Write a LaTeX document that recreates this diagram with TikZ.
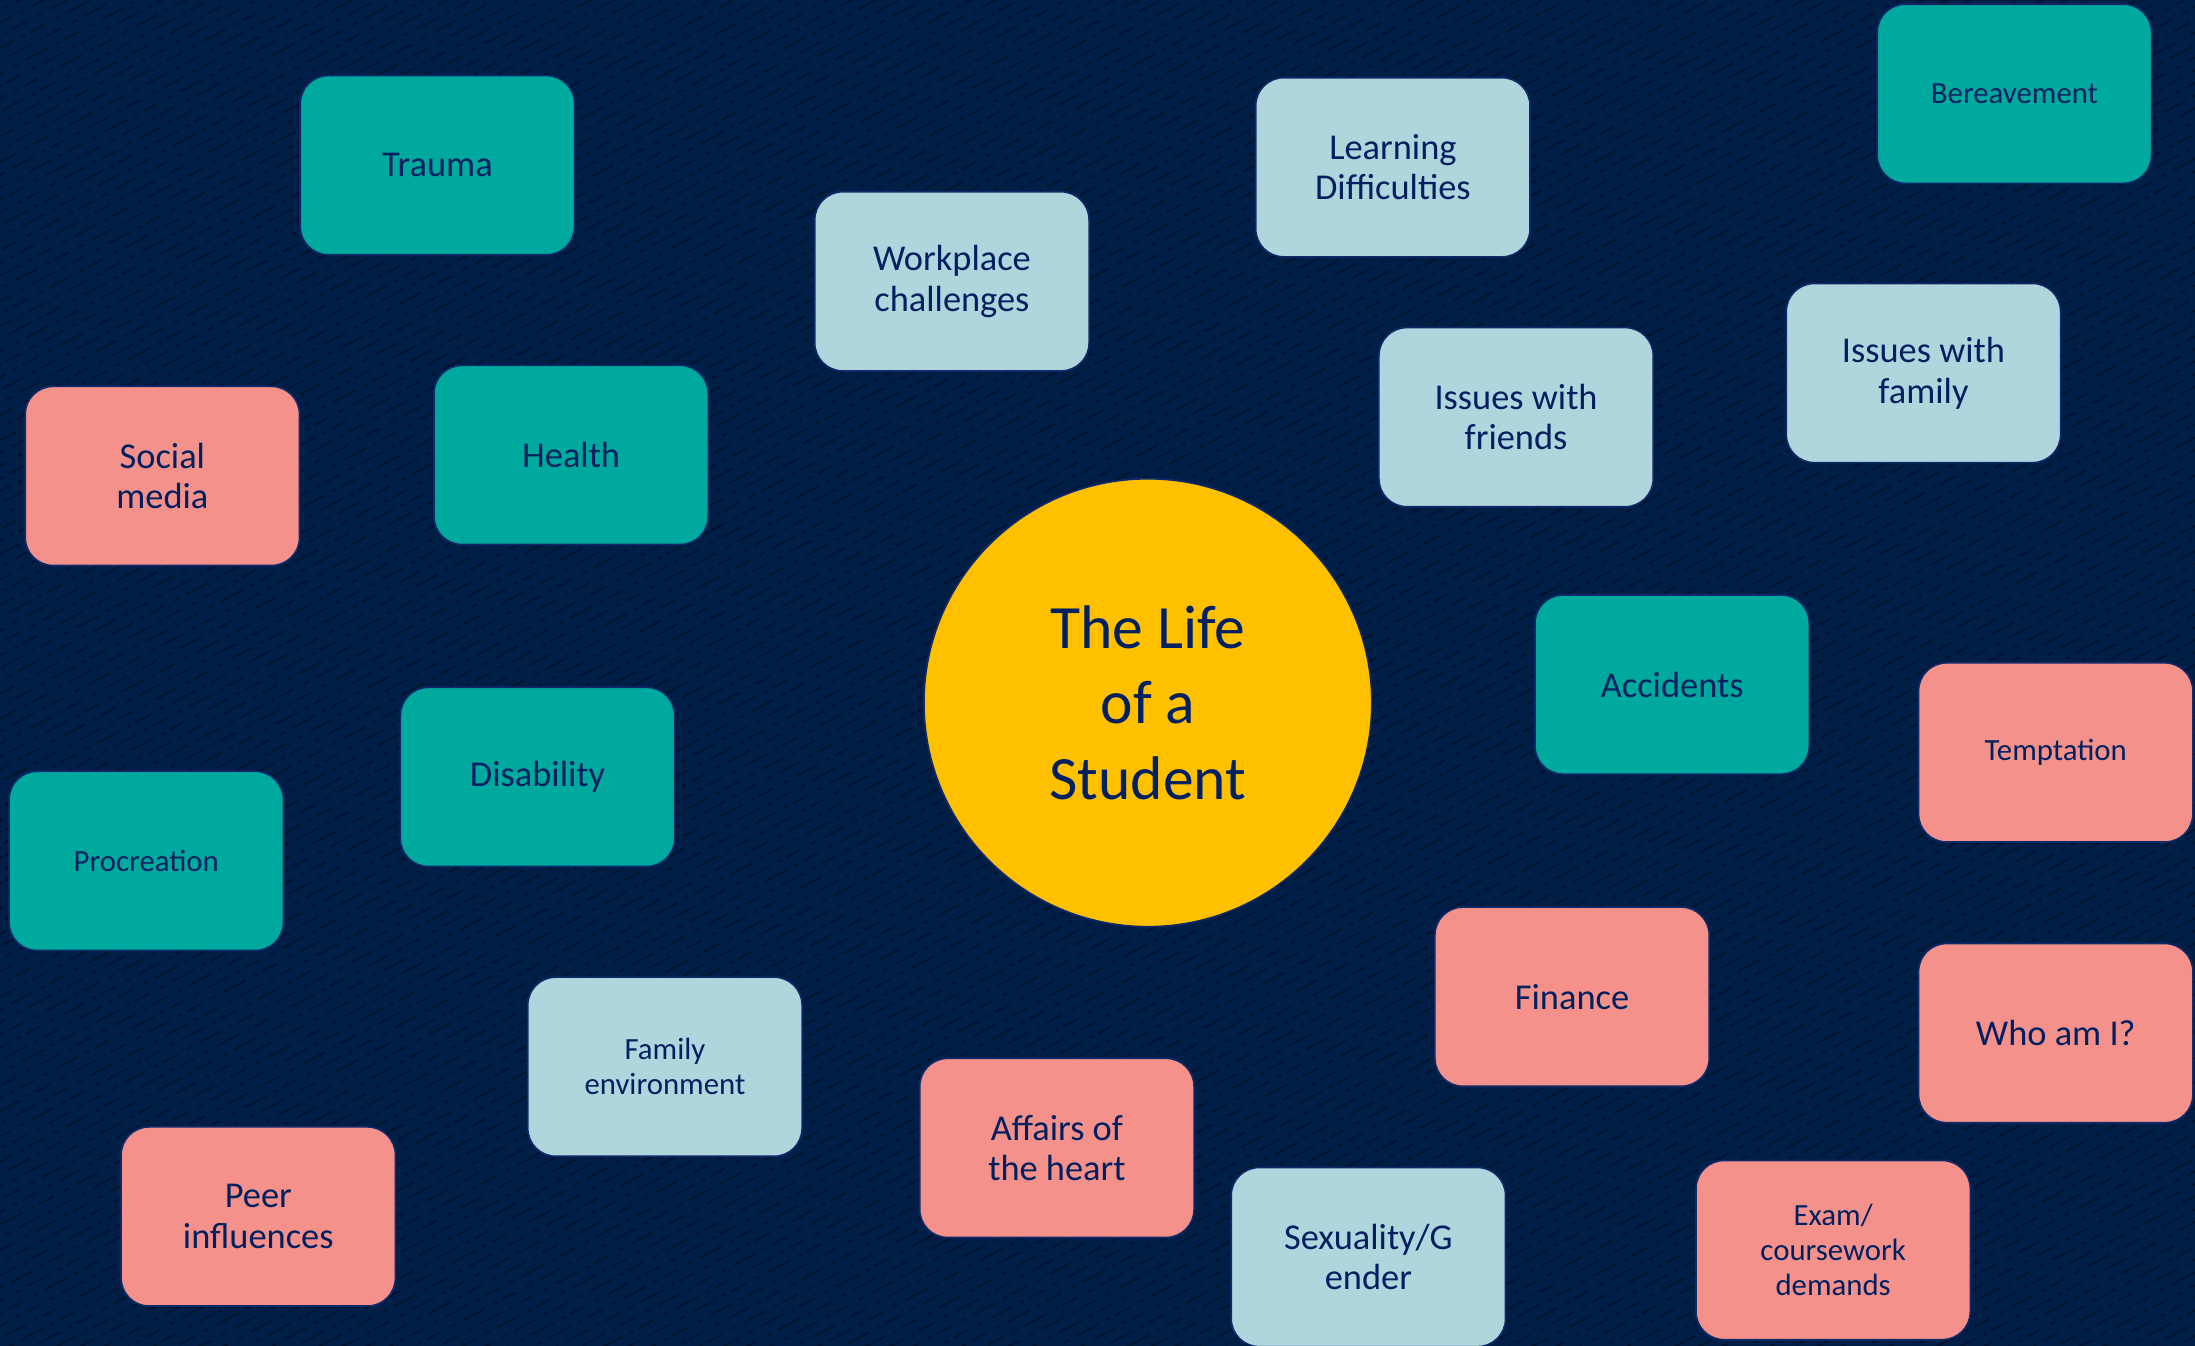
\documentclass[tikz,border=0pt]{standalone}
\usepackage{xcolor}
\usepackage{fontspec}
\setmainfont{Carlito}

\definecolor{bgnavy}{RGB}{0,30,70}
\definecolor{bgstreak}{RGB}{0,20,48}
\definecolor{inkblue}{RGB}{0,32,96}
\definecolor{edgeblue}{RGB}{16,42,105}
\definecolor{tealbox}{RGB}{0,169,157}
\definecolor{paleblue}{RGB}{174,214,220}
\definecolor{salmonbox}{RGB}{245,145,139}
\definecolor{sunyellow}{RGB}{255,192,0}

\begin{document}
\begin{tikzpicture}[x=0.5pt,y=0.5pt,yscale=-1,xscale=1,
  topic/.style={rectangle, rounded corners=10pt, draw=edgeblue, line width=0.6pt,
    minimum width=98pt, minimum height=64pt, align=center, text=inkblue,
    inner sep=2pt, font=\fontsize{13}{14.5}\selectfont},
  topicsmall/.style={topic, font=\fontsize{11}{12.5}\selectfont},
  teal/.style={fill=tealbox},
  pale/.style={fill=paleblue},
  salmon/.style={fill=salmonbox},
  streak/.style={draw=bgstreak, line width=0.7pt,
    dash pattern=on 9pt off 3pt on 1.5pt off 2pt on 6pt off 4pt on 2pt off 3pt}]
\useasboundingbox (0,0) rectangle (1568,961.5);

%Shape: Background
\fill [bgnavy] (0,0) rectangle (1568,961.5);
\begin{scope}
\clip (0,0) rectangle (1568,961.5);
\foreach \k in {0,...,200}
  \draw [streak, dash phase=\k*2.7pt] (-1820+\k*17,975) -- ++(-28:2400);
\end{scope}

%Shape: Circle
\node (life) [circle, fill=sunyellow, draw=edgeblue, line width=0.6pt, minimum size=160pt,
  align=center, text=inkblue, font=\fontsize{22}{27}\selectfont] at (820,502)
  {The Life\\of a\\Student};

% Top row
\node (trauma) [topic, teal] at (312.5,118) {Trauma};
\node (learning) [topic, pale] at (995,119.5) {Learning\\Difficulties};
\node (bereavement) [topicsmall, teal] at (1439,67) {Bereavement};
\node (workplace) [topic, pale] at (680,201) {Workplace\\challenges};
\node (family) [topic, pale] at (1374,266.5) {Issues with\\family};
\node (friends) [topic, pale] at (1083,298) {Issues with\\friends};

% Middle
\node (social) [topic, salmon] at (116,340) {Social\\media};
\node (health) [topic, teal] at (408,325) {Health};
\node (accidents) [topic, teal] at (1194.5,489) {Accidents};
\node (temptation) [topicsmall, salmon] at (1468.5,537.5) {Temptation};
\node (disability) [topic, teal] at (384,555) {Disability};
\node (procreation) [topicsmall, teal] at (104.5,615) {Procreation};

% Bottom rows
\node (finance) [topic, salmon] at (1123,712) {Finance};
\node (whoami) [topic, salmon] at (1468.5,738) {Who am I?};
\node (famenv) [topicsmall, pale] at (475,762) {Family\\environment};
\node (affairs) [topic, salmon] at (755,820) {Affairs of\\the heart};
\node (peer) [topic, salmon] at (184.5,869) {Peer\\influences};
\node (sexuality) [topic, pale] at (977.5,898) {Sexuality/G\\ender};
\node (exam) [topicsmall, salmon] at (1309.5,893) {Exam/\\coursework\\demands};

\end{tikzpicture}
\end{document}
